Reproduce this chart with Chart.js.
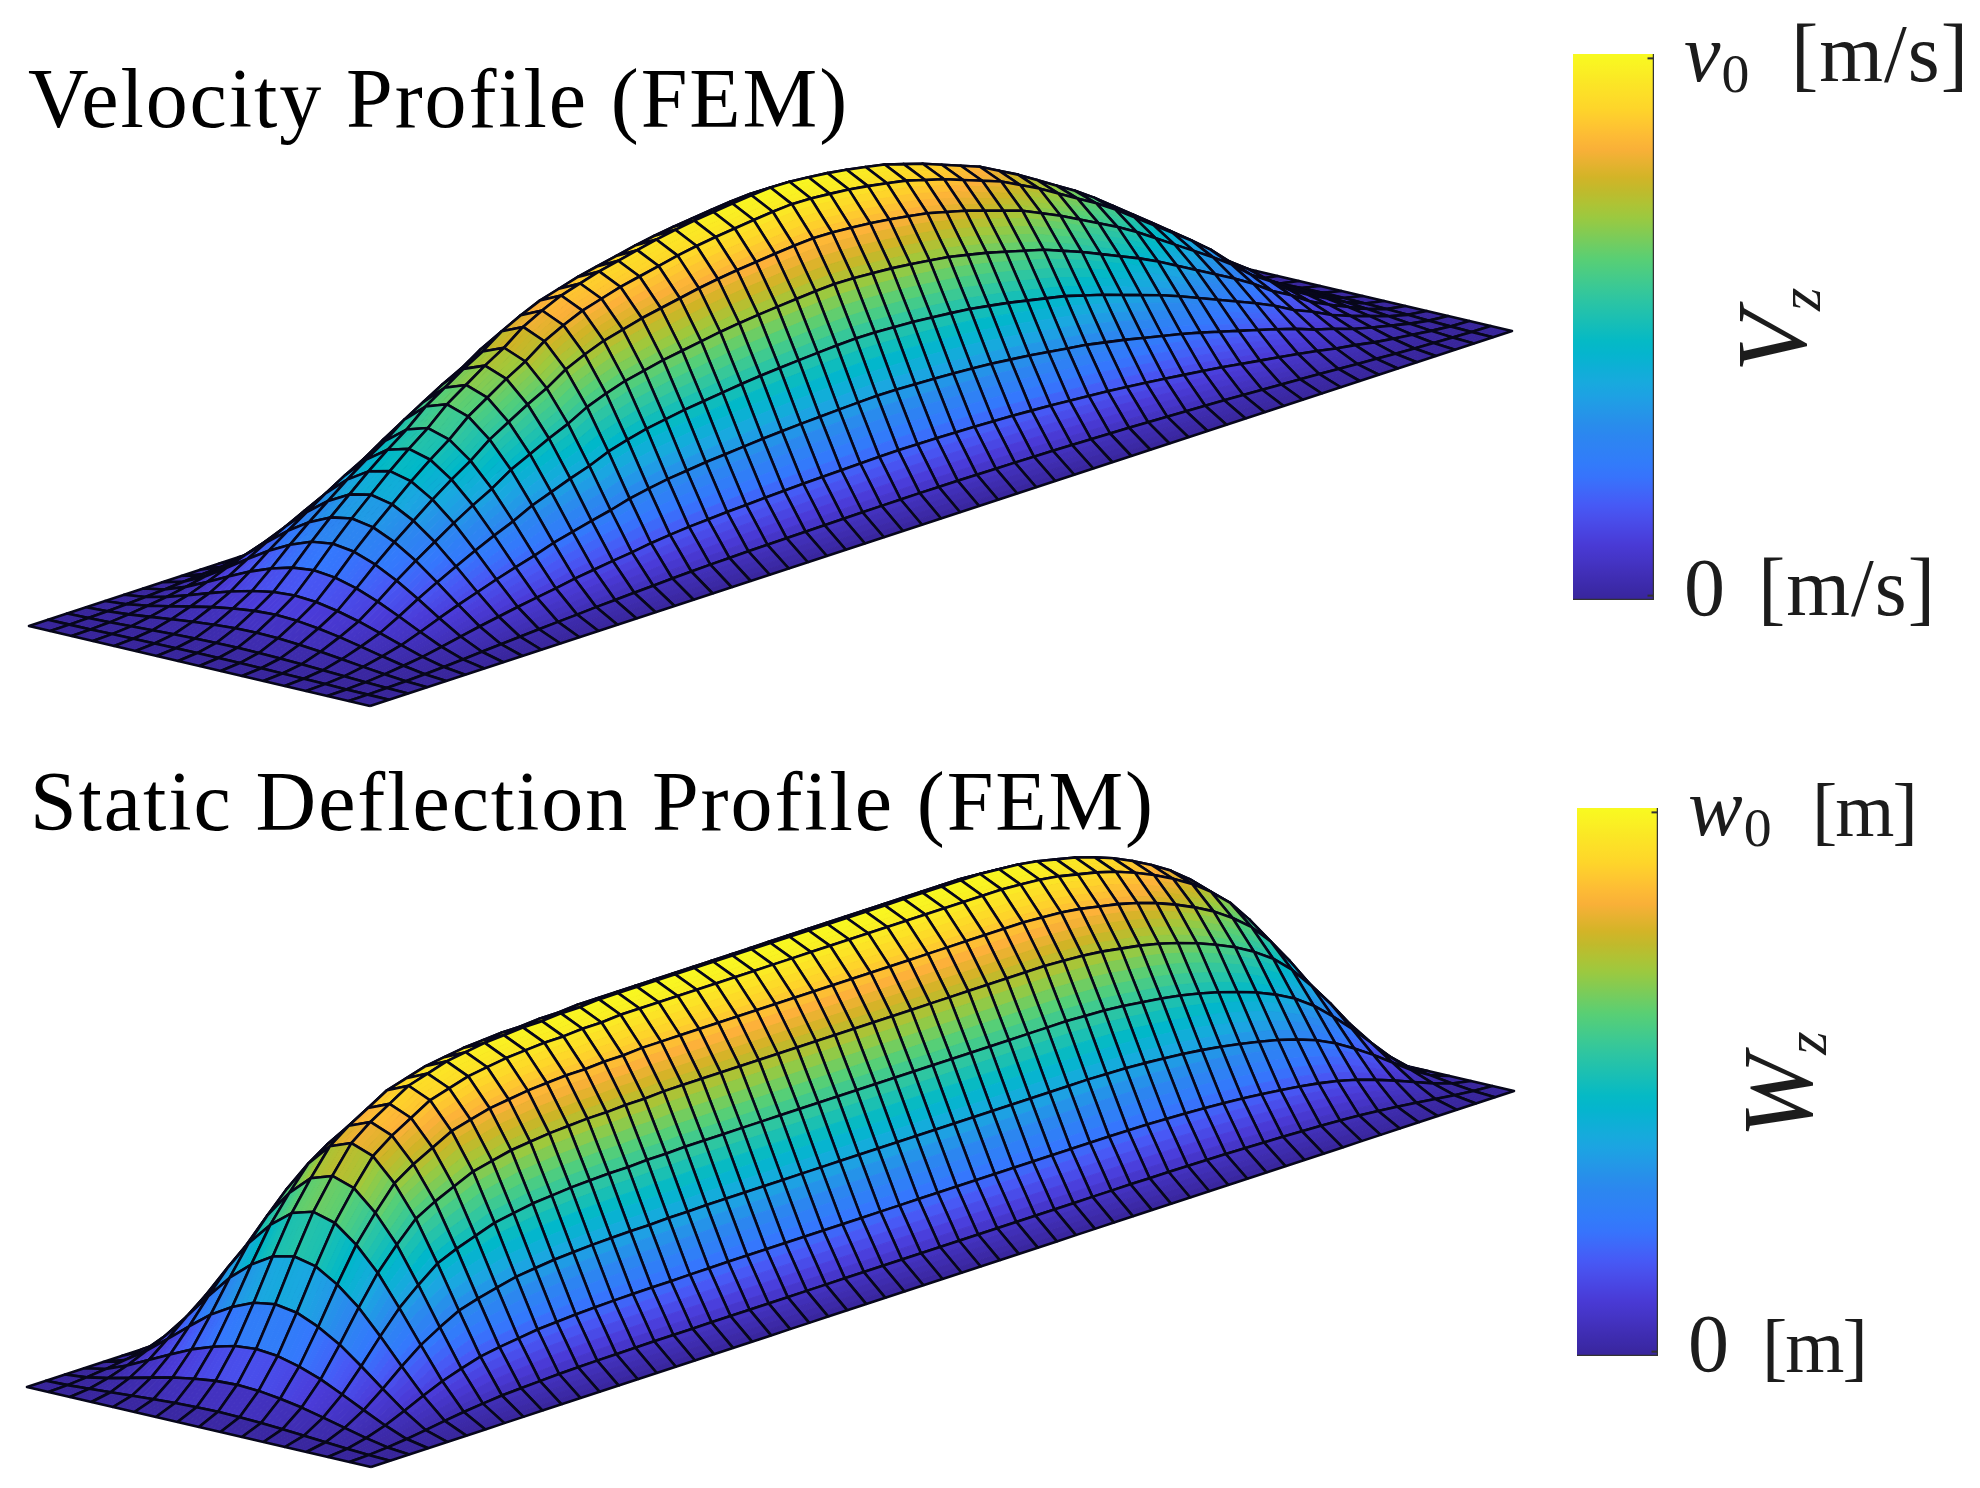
<!DOCTYPE html>
<html><head><meta charset="utf-8">
<script src="https://cdn.jsdelivr.net/npm/chart.js@4"></script>
<style>
html,body{margin:0;padding:0;background:#fff;width:1980px;height:1488px;overflow:hidden}
canvas{position:absolute;display:block}
.t{position:absolute;white-space:pre;font-family:"Liberation Serif",serif;line-height:1;color:#1c1c1c}
.title{font-size:84px;letter-spacing:1.9px;color:#000}
.lab{font-size:82px;letter-spacing:1px}
.lab.nar{font-size:76px;letter-spacing:-2px}
.t sub{font-size:.68em;line-height:0;vertical-align:-.2em;font-style:normal}
.rot{font-size:100px;transform-origin:0 0;transform:rotate(-90deg)}
.rot sub{font-size:.6em;vertical-align:-.25em}
</style></head><body>
<canvas id="surfA" width="1980" height="744" style="left:0;top:0"></canvas>
<canvas id="surfB" width="1980" height="744" style="left:0;top:744px"></canvas>
<canvas id="barA" width="85" height="550" style="left:1571px;top:52px"></canvas>
<canvas id="barB" width="85" height="552" style="left:1575px;top:806px"></canvas>
<div class="t title" style="left:28px;top:57px">Velocity Profile (FEM)</div>
<div class="t title" style="left:30px;top:760px">Static Deflection Profile (FEM)</div>
<div class="t lab" style="left:1684px;top:13px"><i>v</i><sub>0</sub></div>
<div class="t lab" style="left:1791px;top:13px">[m/s]</div>
<div class="t lab" style="left:1684px;top:547px">0</div>
<div class="t lab" style="left:1758px;top:547px">[m/s]</div>
<div class="t lab" style="left:1688px;top:767px"><i>w</i><sub>0</sub></div>
<div class="t lab nar" style="left:1812px;top:772px">[m]</div>
<div class="t lab" style="left:1688px;top:1303px">0</div>
<div class="t lab nar" style="left:1762px;top:1308px">[m]</div>
<div class="t rot" style="left:1722px;top:372px"><i>V</i><sub><i>z</i></sub></div>
<div class="t rot" style="left:1728px;top:1138px"><i>W</i><sub><i>z</i></sub></div>
<script>
// Height of the velocity surface along the long side of the plate (one value per mesh line)
const velocityAlong = [0,.006,.02,.05,.09,.135,.20,.27,.335,.395,.455,.51,.56,.62,.665,.71,.75,.80,.835,.865,.885,.905,.92,.935,.95,.962,.972,.98,.988,.995,1,.998,.992,.985,.975,.963,.95,.93,.91,.885,.86,.835,.80,.765,.725,.685,.645,.60,.55,.50,.45,.40,.345,.28,.23,.17,.125,.085,.045,.015,0];
// Height of the velocity surface across the short side
const velocityAcross = [0,.07,.20,.37,.55,.72,.86,.96,1,.96,.86,.72,.55,.37,.20,.07,0];
// Same two profiles for the static deflection surface
const deflectionAlong = [0,.03,.10,.20,.33,.47,.60,.70,.79,.84,.88,.92,.94,.96,.97,.98,.985,.99,.99,.995,.995,1,1,1,1,1,1,1,1,1,1,1,1,1,1,1,1,1,1,1,1,1,.995,.99,.98,.965,.95,.93,.905,.875,.84,.80,.75,.69,.61,.51,.40,.28,.16,.06,0];
const deflectionAcross = [0,.07,.215,.39,.57,.74,.87,.965,1,.965,.87,.74,.57,.39,.215,.07,0];
// Colour bar
const colorPos = [0,.105,.17,.235,.31,.39,.465,.555,.62,.705,.77,.83,.9,1];
const colorHex = ['#38259b','#4a3bd8','#4858f5','#3478fd','#2b88ee','#1aa8e0','#00b8ca','#30c6a0','#55cf78','#9fc93c','#cfb425','#fdb03a','#fed52a','#f8fa20'];

const rgb = colorHex.map(h=>[1,3,5].map(k=>parseInt(h.slice(k,k+2),16)));
function colorAt(t){
  t=Math.max(0,Math.min(1,t));
  let k=0; while(k<colorPos.length-2 && t>colorPos[k+1]) k++;
  const f=(t-colorPos[k])/(colorPos[k+1]-colorPos[k]);
  const c=rgb[k].map((a,n)=>Math.round(a+(rgb[k+1][n]-a)*f));
  return `rgb(${c[0]},${c[1]},${c[2]})`;
}
const LINE='#07071a', SHADE_STEPS=5;
function surface(id,along,across,view){
  const N=along.length-1,M=across.length-1;
  const {F,R,L,H}=view;
  const W=(i,j)=>along[i]*across[j];
  const P=(i,j)=>({
    x:F[0]+(R[0]-F[0])*i/N+(L[0]-F[0])*j/M,
    y:F[1]+(R[1]-F[1])*i/N+(L[1]-F[1])*j/M-H*W(i,j)
  });
  const datasets=[];
  const base={showLine:true,pointRadius:0,pointHoverRadius:0,tension:0,parsing:false,normalized:true};
  // Chart.js paints the first dataset last, so the nearest cell goes first
  for(let i=0;i<N;i++)for(let j=0;j<M;j++){
    const a=P(i,j),b=P(i+1,j),c=P(i+1,j+1),d=P(i,j+1);
    datasets.push({...base,data:[a,b,c,d,a],fill:false,borderColor:LINE,borderWidth:2.6,borderJoinStyle:'round'});
    for(let s=0;s<SHADE_STEPS;s++){
      const f0=s/SHADE_STEPS,f1=(s+1)/SHADE_STEPS,mid=(f0+f1)/2;
      const mix=(p,q,f)=>({x:p.x+(q.x-p.x)*f,y:p.y+(q.y-p.y)*f});
      const w=(W(i,j)*(1-mid)+W(i,j+1)*mid+W(i+1,j)*(1-mid)+W(i+1,j+1)*mid)/2;
      const col=colorAt(w);
      const p0=mix(a,d,f0),p1=mix(b,c,f0),p2=mix(b,c,f1),p3=mix(a,d,f1);
      datasets.push({...base,data:[p0,p1,p2,p3,p0],fill:'shape',backgroundColor:col,borderColor:col,borderWidth:1});
    }
  }
  new Chart(document.getElementById(id),{type:'scatter',data:{datasets},options:{
    responsive:false,animation:false,events:[],devicePixelRatio:1,
    layout:{padding:0},
    plugins:{legend:{display:false},tooltip:{enabled:false},title:{display:false}},
    scales:{x:{type:'linear',min:0,max:1980,display:false},y:{type:'linear',min:0,max:744,reverse:true,display:false}}
  }});
}
function colorbar(id){
  const sq=[{x:0,y:0},{x:1,y:0},{x:1,y:1},{x:0,y:1},{x:0,y:0}];
  const base={showLine:true,pointRadius:0,tension:0,parsing:false};
  new Chart(document.getElementById(id),{type:'scatter',data:{datasets:[
    {...base,data:[{x:.92,y:.992},{x:1,y:.992}],borderColor:'#333',borderWidth:2,fill:false},
    {...base,data:[{x:.92,y:.008},{x:1,y:.008}],borderColor:'#333',borderWidth:2,fill:false},
    {...base,data:sq,fill:'shape',borderColor:'#333',borderWidth:2.5,backgroundColor(ctx){
      const ch=ctx.chart; if(!ch.chartArea) return '#888';
      const y=ch.scales.y,g=ch.ctx.createLinearGradient(0,y.getPixelForValue(0),0,y.getPixelForValue(1));
      for(let k=0;k<=40;k++) g.addColorStop(k/40,colorAt(k/40));
      return g;
    }}
  ]},options:{responsive:false,animation:false,events:[],devicePixelRatio:1,layout:{padding:2},
    plugins:{legend:{display:false},tooltip:{enabled:false}},
    scales:{x:{type:'linear',min:0,max:1,display:false},y:{type:'linear',min:0,max:1,display:false}}}});
}
surface('surfA',velocityAlong,velocityAcross,{F:[370,706],R:[1512,331],L:[29,626],H:291});
surface('surfB',deflectionAlong,deflectionAcross,{F:[371,723],R:[1514,347],L:[27,643],H:296});
colorbar('barA');colorbar('barB');
</script>
</body></html>
